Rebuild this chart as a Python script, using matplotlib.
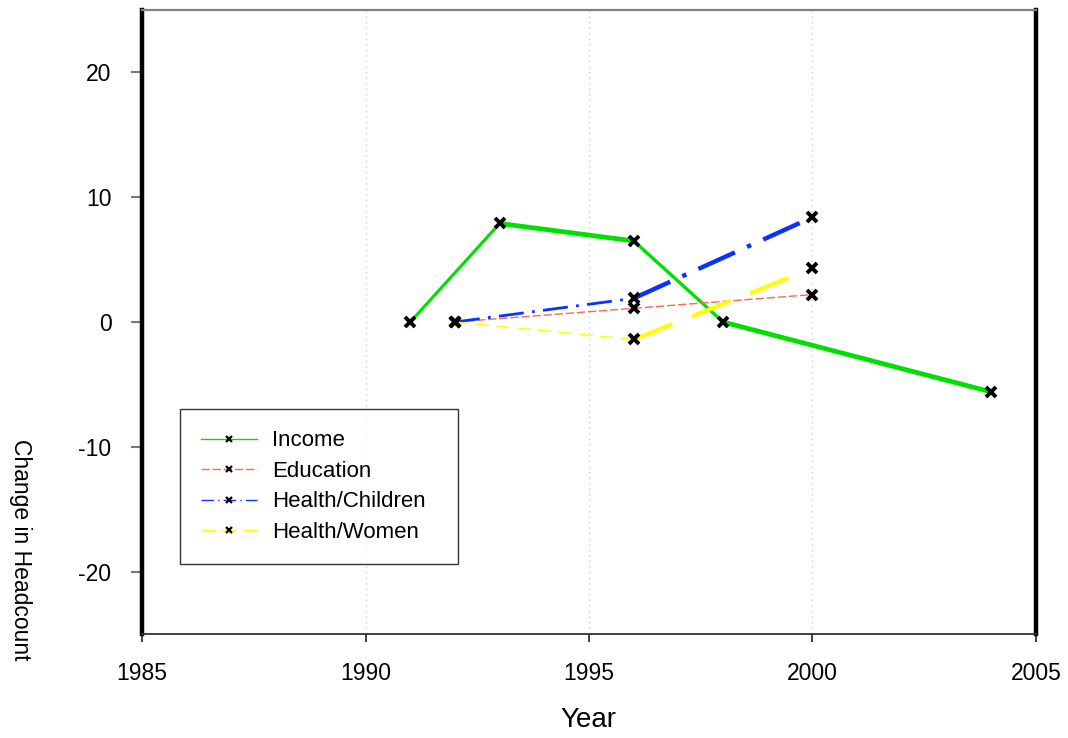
import matplotlib
matplotlib.use("Agg")
import matplotlib.pyplot as plt
from matplotlib.lines import Line2D

plt.rcParams['font.family'] = ['Liberation Sans', 'DejaVu Sans']
plt.rcParams['axes.unicode_minus'] = False

# ---- data ----
income_years = [1991, 1993, 1996, 1998, 2004]
income_vals = [0.0, 7.9, 6.5, 0.0, -5.6]
edu_years = [1992, 1996, 2000]
edu_vals = [0.0, 1.1, 2.2]
child_years = [1992, 1996, 2000]
child_vals = [0.0, 1.9, 8.4]
women_years = [1992, 1996, 2000]
women_vals = [0.0, -1.4, 4.3]
series_names = ["Income", "Education", "Health/Children", "Health/Women"]
x_ticks = [1985, 1990, 1995, 2000, 2005]
y_ticks = [-20, -10, 0, 10, 20]

fig = plt.figure(figsize=(10.68, 7.38), dpi=100)
ax = fig.add_axes([0.133, 0.1409, 0.837, 0.8455])

styles = [
    dict(color='#00e000', ls='-', widths=[2.2, 3.4, 2.4, 3.4]),
    dict(color='#f86a50', ls=(0, (6, 2)), widths=[1.0, 1.0]),
    dict(color='#0a32ff', ls=(0, (9, 3, 1, 3)), widths=[2.0, 3.2]),
    dict(color='#ffff00', ls=(0, (10, 5)), widths=[1.0, 3.0]),
]
data = [(income_years, income_vals), (edu_years, edu_vals),
        (child_years, child_vals), (women_years, women_vals)]

handles = []
for (xs, ys), st, name in zip(data, styles, series_names):
    for i in range(len(xs) - 1):
        ax.plot(xs[i:i + 2], ys[i:i + 2], color=st['color'], ls=st['ls'],
                lw=st['widths'][i], solid_capstyle='butt', dash_capstyle='butt', zorder=3)
    ax.plot(xs, ys, ls='none', marker='x', ms=7.5, mew=2.8, color='black', zorder=4)
    handles.append(Line2D([], [], color=st['color'], ls=st['ls'], lw=1.0,
                          marker='x', ms=5, mew=1.6, mec='black', label=name))

ax.set_xlim(1985, 2005)
ax.set_ylim(-25, 25)
ax.set_xticks(x_ticks)
ax.set_yticks(y_ticks)
ax.tick_params(axis='x', direction='out', length=6, width=1.2, color='#222222',
               labelsize=16.5, pad=14.5)
ax.tick_params(axis='y', direction='out', length=8, width=1.5, color='#777777',
               labelsize=16.5, pad=14)
for t in [1990, 1995, 2000]:
    ax.axvline(t, color='#d0d0d0', ls=(0, (1, 3)), lw=1.0, zorder=1)

ax.spines['left'].set_linewidth(3.2)
ax.spines['left'].set_color('black')
ax.spines['right'].set_linewidth(3.2)
ax.spines['right'].set_color('black')
ax.spines['top'].set_linewidth(1.6)
ax.spines['top'].set_color('#808080')
ax.spines['bottom'].set_linewidth(1.3)
ax.spines['bottom'].set_color('#333333')

leg = ax.legend(handles=handles, loc='lower left',
                bbox_to_anchor=(0.0425, 0.112, 0.311, 0.248), mode='expand',
                fontsize=16, frameon=True, fancybox=False, handlelength=2.5,
                handletextpad=0.7, labelspacing=0.43, borderpad=0.95,
                borderaxespad=0)
leg.get_frame().set_edgecolor('black')
leg.get_frame().set_linewidth(1.0)

fig.text(588 / 1068, 1 - 720 / 738, "Year", fontsize=20, ha='center', va='center')
fig.text(20 / 1068, 1 - 550 / 738, "Change in Headcount", fontsize=16.5,
         rotation=270, ha='center', va='center')

fig.savefig("out.png", dpi=100)
